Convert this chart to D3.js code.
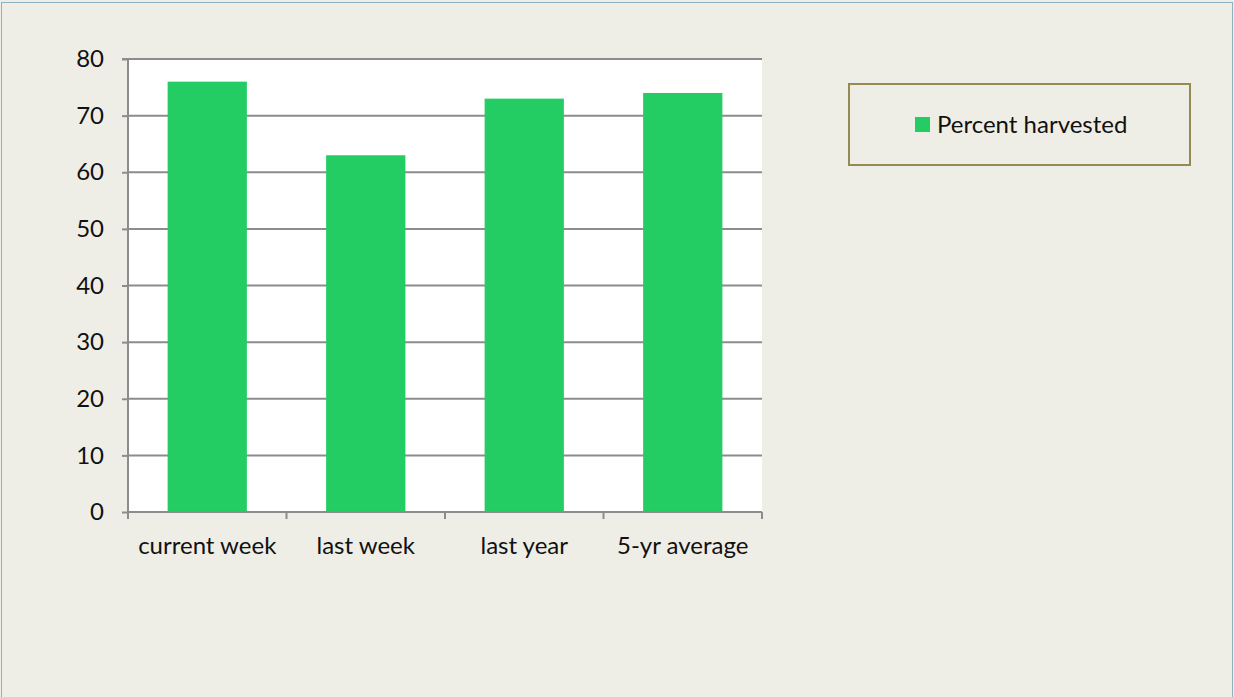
<!DOCTYPE html>
<meta charset="utf-8">
<style>
body{margin:0;background:#efeee6;}
svg text{font-family:Lato, "Open Sans", sans-serif;fill:#111;}
</style>
<svg id="chart" width="1234" height="697"></svg>
<script src="https://d3js.org/d3.v7.min.js"></script>
<script>
// categories and values
const categories = ['current week', 'last week', 'last year', '5-yr average']
const percentHarvested = [76, 63, 73, 74]
const yTicks = [0, 10, 20, 30, 40, 50, 60, 70, 80]
const seriesName = 'Percent harvested'

const BAR = '#23cd64'
const GRID = '#8c8c8c'
const FONT_SIZE = 24

let svg = d3.select('svg#chart')

// outer frame
svg.append('rect')
  .attr('x', 1.5).attr('y', 2.5)
  .attr('width', 1231).attr('height', 700)
  .attr('fill', '#efeee6')
  .attr('stroke', '#8fb1c4')

const plot = {left: 128, right: 762, top: 59, bottom: 512}

let x = d3.scaleBand()
  .domain(categories)
  .range([plot.left, plot.right])
  .paddingInner(0.5).paddingOuter(0.25)

let y = d3.scaleLinear().domain([0, 80]).range([plot.bottom, plot.top])

// white plot area
svg.append('rect')
  .attr('x', plot.left).attr('y', plot.top)
  .attr('width', plot.right - plot.left).attr('height', plot.bottom - plot.top)
  .attr('fill', '#fff')

// gridlines
svg.selectAll('line.grid').data(yTicks.filter(d => d > 0))
  .enter().append('line').attr('class', 'grid')
  .attr('x1', plot.left).attr('x2', plot.right)
  .attr('y1', d => y(d)).attr('y2', d => y(d))
  .attr('stroke', GRID).attr('stroke-width', 2)

// bars
svg.selectAll('rect.bar').data(percentHarvested)
  .enter().append('rect').attr('class', 'bar')
  .attr('x', (d, i) => x(categories[i]))
  .attr('width', x.bandwidth())
  .attr('y', d => y(d))
  .attr('height', d => y(0) - y(d))
  .attr('fill', BAR)

// y axis
let yAxis = svg.append('g')
  .attr('transform', `translate(${plot.left},0)`)
  .call(d3.axisLeft(y).tickValues(yTicks).tickSize(6).tickPadding(18))
yAxis.select('.domain').attr('stroke', GRID).attr('stroke-width', 2).attr('d', `M-6,${plot.top}H0V${plot.bottom}`)
yAxis.selectAll('.tick line').attr('stroke', GRID).attr('stroke-width', 2)
yAxis.selectAll('.tick text').attr('font-size', FONT_SIZE).attr('fill', '#111')
  .attr('font-family', 'Lato, sans-serif')

// x axis, ticks between categories
let xAxis = svg.append('g').attr('transform', `translate(0,${plot.bottom})`)
xAxis.append('line')
  .attr('x1', plot.left).attr('x2', plot.right)
  .attr('stroke', GRID).attr('stroke-width', 2)
let bounds = d3.range(categories.length + 1).map(i => plot.left + i * (plot.right - plot.left) / categories.length)
xAxis.selectAll('line.tk').data(bounds)
  .enter().append('line').attr('class', 'tk')
  .attr('x1', d => d).attr('x2', d => d)
  .attr('y1', 0).attr('y2', 7)
  .attr('stroke', GRID).attr('stroke-width', 2)
xAxis.selectAll('text').data(categories)
  .enter().append('text')
  .attr('x', d => x(d) + x.bandwidth() / 2)
  .attr('y', 42)
  .attr('text-anchor', 'middle')
  .attr('font-size', FONT_SIZE)
  .text(d => d)

// legend
let legend = svg.append('g')
legend.append('rect')
  .attr('x', 849).attr('y', 84).attr('width', 341).attr('height', 81)
  .attr('fill', 'none').attr('stroke', '#948a54').attr('stroke-width', 2)
legend.append('rect')
  .attr('x', 915).attr('y', 117).attr('width', 15).attr('height', 15)
  .attr('fill', BAR)
legend.append('text')
  .attr('x', 937).attr('y', 133)
  .attr('font-size', FONT_SIZE)
  .text(seriesName)
</script>
